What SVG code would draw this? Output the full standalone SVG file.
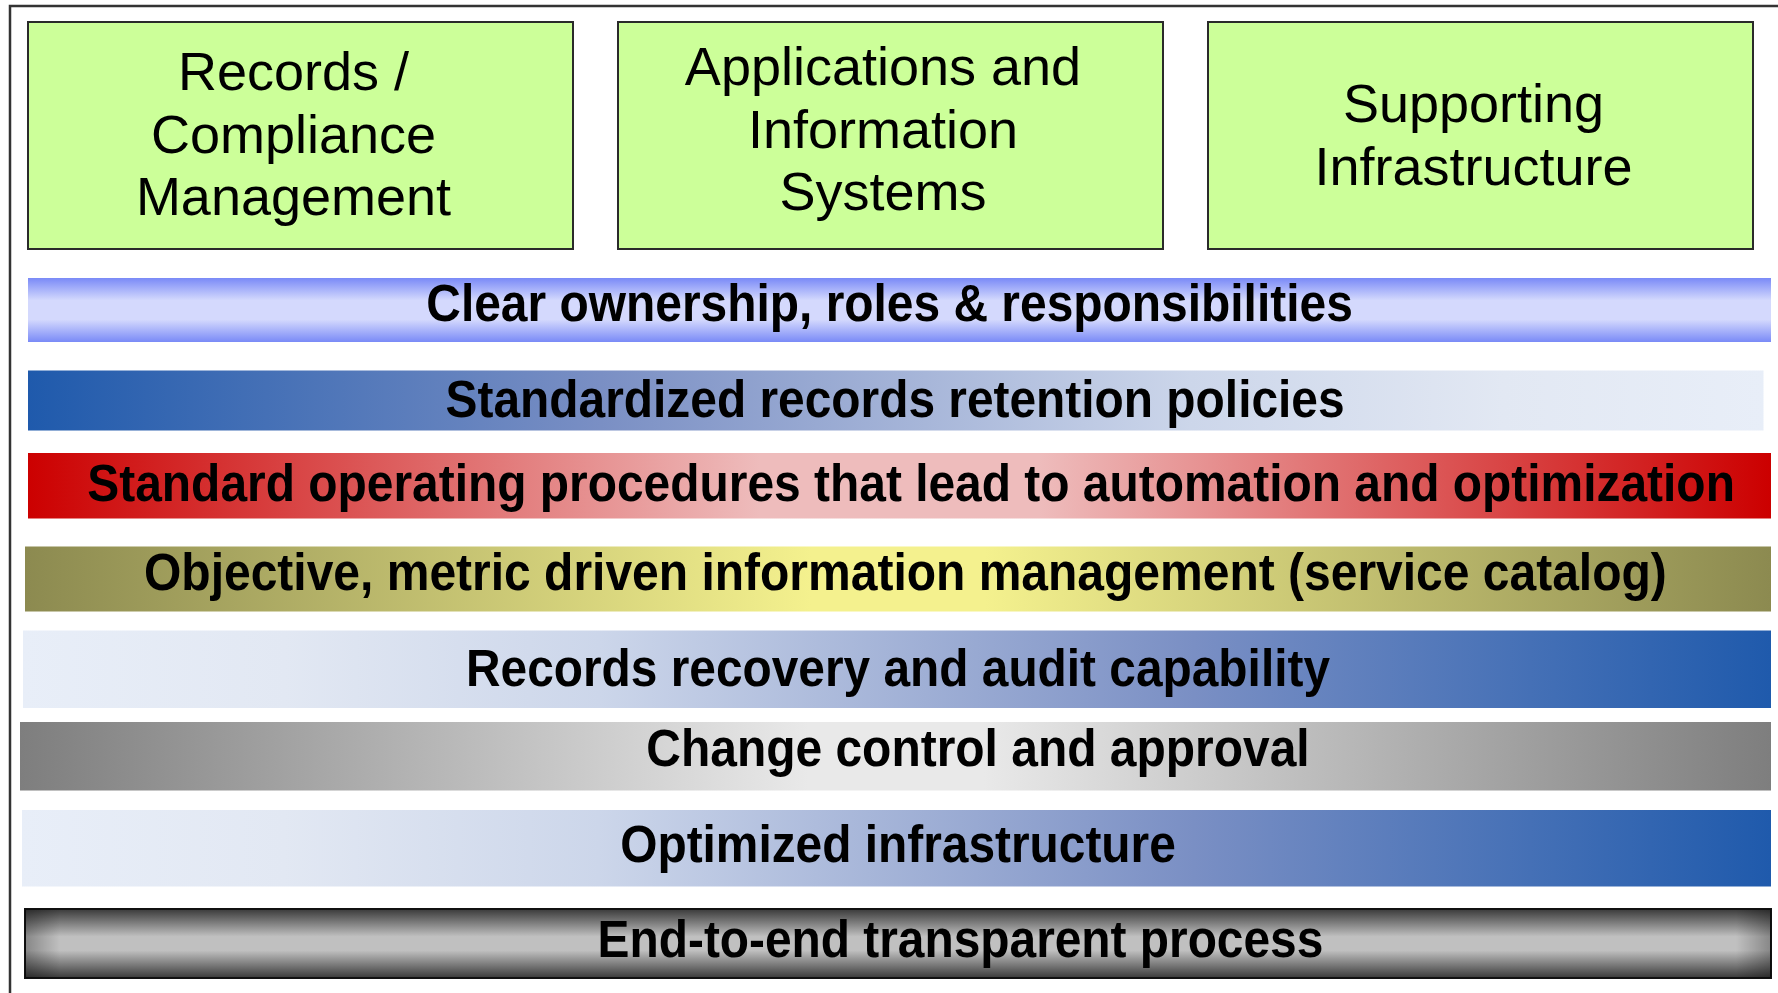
<svg xmlns="http://www.w3.org/2000/svg" width="1778" height="993" viewBox="0 0 1778 993">
<defs>
<style>
.box{fill:#ccff99;stroke:#2a2a2a;stroke-width:2}
.bt{font-family:"Liberation Sans",Arial,sans-serif;font-size:54px;fill:#000;text-anchor:middle}
.bar{font-family:"Liberation Sans",Arial,sans-serif;font-size:51px;font-weight:bold;fill:#000}
</style>
<linearGradient id="g1" x1="0" y1="0" x2="0" y2="1">
<stop offset="0" stop-color="#7a8af7"/><stop offset="0.35" stop-color="#d4d9fd"/><stop offset="0.65" stop-color="#d4d9fd"/><stop offset="1" stop-color="#7a8af7"/>
</linearGradient>
<linearGradient id="g2" x1="0" y1="0" x2="1" y2="0">
<stop offset="0" stop-color="#1f5aac"/><stop offset="0.33" stop-color="#7a8fc4"/><stop offset="0.67" stop-color="#ccd6ea"/><stop offset="0.85" stop-color="#e2e8f3"/><stop offset="1" stop-color="#e8eef8"/>
</linearGradient>
<linearGradient id="g2r" x1="1" y1="0" x2="0" y2="0">
<stop offset="0" stop-color="#1f5aac"/><stop offset="0.33" stop-color="#7a8fc4"/><stop offset="0.67" stop-color="#ccd6ea"/><stop offset="0.85" stop-color="#e2e8f3"/><stop offset="1" stop-color="#e8eef8"/>
</linearGradient>
<linearGradient id="g3" x1="0" y1="0" x2="1" y2="0">
<stop offset="0" stop-color="#cc0000"/><stop offset="0.42" stop-color="#eebcbc"/><stop offset="0.58" stop-color="#eebcbc"/><stop offset="1" stop-color="#cc0000"/>
</linearGradient>
<linearGradient id="g4" x1="0" y1="0" x2="1" y2="0">
<stop offset="0" stop-color="#8c8a50"/><stop offset="0.45" stop-color="#f4f18e"/><stop offset="0.55" stop-color="#f4f18e"/><stop offset="1" stop-color="#8c8a50"/>
</linearGradient>
<linearGradient id="g6" x1="0" y1="0" x2="1" y2="0">
<stop offset="0" stop-color="#7e7e7e"/><stop offset="0.45" stop-color="#e9e9e9"/><stop offset="0.55" stop-color="#e9e9e9"/><stop offset="1" stop-color="#7e7e7e"/>
</linearGradient>
<linearGradient id="g8" x1="0" y1="0" x2="0" y2="1">
<stop offset="0" stop-color="#3a3a3a"/><stop offset="0.4" stop-color="#c0c0c0"/><stop offset="0.6" stop-color="#c0c0c0"/><stop offset="1" stop-color="#3a3a3a"/>
</linearGradient>
<linearGradient id="g8h" x1="0" y1="0" x2="1" y2="0">
<stop offset="0" stop-color="#000" stop-opacity="0.3"/><stop offset="0.02" stop-color="#000" stop-opacity="0"/><stop offset="0.98" stop-color="#000" stop-opacity="0"/><stop offset="1" stop-color="#000" stop-opacity="0.3"/>
</linearGradient>
</defs>
<rect width="1778" height="993" fill="#fff"/>
<path d="M10,993 V6 H1778" fill="none" stroke="#333" stroke-width="2.5"/>

<g id="box-records">
<rect class="box" x="28" y="22" width="545" height="227"/>
<text class="bt" x="293.5" y="89.5">Records /</text>
<text class="bt" x="293.5" y="153">Compliance</text>
<text class="bt" x="293.5" y="215">Management</text>
</g>
<g id="box-applications">
<rect class="box" x="618" y="22" width="545" height="227"/>
<text class="bt" x="883" y="85">Applications and</text>
<text class="bt" x="883" y="148">Information</text>
<text class="bt" x="883" y="210">Systems</text>
</g>
<g id="box-infrastructure">
<rect class="box" x="1208" y="22" width="545" height="227"/>
<text class="bt" x="1473.5" y="121.5">Supporting</text>
<text class="bt" x="1473.5" y="185">Infrastructure</text>
</g>

<g id="bar-ownership">
<rect x="28" y="278" width="1743" height="64" fill="url(#g1)"/>
<text class="bar" x="426.3" y="321" textLength="926.5" lengthAdjust="spacingAndGlyphs">Clear ownership, roles &amp; responsibilities</text>
</g>
<g id="bar-retention">
<rect x="28" y="370.5" width="1735.5" height="60" fill="url(#g2)"/>
<text class="bar" x="445.6" y="417" textLength="899" lengthAdjust="spacingAndGlyphs">Standardized records retention policies</text>
</g>
<g id="bar-sop">
<rect x="28" y="453" width="1743" height="65.5" fill="url(#g3)"/>
<text class="bar" x="87.3" y="500.5" textLength="1647.6" lengthAdjust="spacingAndGlyphs">Standard operating procedures that lead to automation and optimization</text>
</g>
<g id="bar-objective">
<rect x="25" y="546.5" width="1746" height="65" fill="url(#g4)"/>
<text class="bar" x="144" y="590" textLength="1522.8" lengthAdjust="spacingAndGlyphs">Objective, metric driven information management (service catalog)</text>
</g>
<g id="bar-recovery">
<rect x="23" y="630.5" width="1748" height="77.5" fill="url(#g2r)"/>
<text class="bar" x="466" y="685.5" textLength="864" lengthAdjust="spacingAndGlyphs">Records recovery and audit capability</text>
</g>
<g id="bar-change">
<rect x="20" y="722" width="1751" height="68.5" fill="url(#g6)"/>
<text class="bar" x="646.3" y="766" textLength="663.4" lengthAdjust="spacingAndGlyphs">Change control and approval</text>
</g>
<g id="bar-optimized">
<rect x="22" y="810" width="1749" height="76.5" fill="url(#g2r)"/>
<text class="bar" x="620.2" y="862" textLength="555.6" lengthAdjust="spacingAndGlyphs">Optimized infrastructure</text>
</g>
<g id="bar-endtoend">
<rect x="25" y="909" width="1746" height="69" fill="url(#g8)" stroke="#111" stroke-width="2"/>
<rect x="25" y="909" width="1746" height="69" fill="url(#g8h)"/>
<text class="bar" x="597.6" y="957" textLength="725.7" lengthAdjust="spacingAndGlyphs">End-to-end transparent process</text>
</g>
<g id="connectors"/>
</svg>
